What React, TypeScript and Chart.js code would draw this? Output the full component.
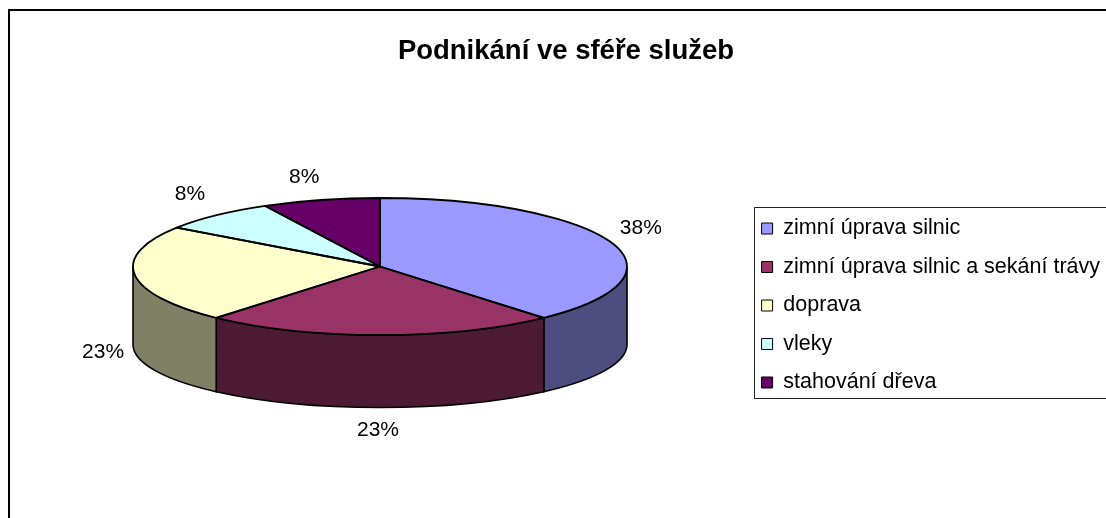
import React, { useEffect, useRef } from "react";
import { Chart, registerables } from "chart.js";

Chart.register(...registerables);

const chartTitle = "Podnikání ve sféře služeb";
const categories = [
  "zimní úprava silnic",
  "zimní úprava silnic a sekání trávy",
  "doprava",
  "vleky",
  "stahování dřeva",
];
const values = [5, 3, 3, 1, 1];
const topColors = ["#9999FF", "#993366", "#FFFFCC", "#CCFFFF", "#660066"];
const sideColors = ["#4D4D80", "#4D1A33", "#808066", "#668080", "#330033"];

const FONT = "'Liberation Sans', Arial, sans-serif";
const CX = 380;
const CY = 266.5;
const RX = 247;
const RY = 68.5;
const DEPTH = 78;
const RY_BOTTOM = 63;
const labelOffsets = [
  [0, -4],
  [-2, -11],
  [0, -4],
  [-5, 0],
  [-9, 4],
];

const pie3d = {
  id: "pie3d",
  beforeDraw(chart: any) {
    const { ctx } = chart;
    ctx.save();
    ctx.strokeStyle = "#000";
    ctx.lineWidth = 2;
    ctx.beginPath();
    ctx.moveTo(9, 518);
    ctx.lineTo(9, 10);
    ctx.lineTo(1106, 10);
    ctx.stroke();
    ctx.lineWidth = 1;
    ctx.strokeStyle = "#222";
    ctx.strokeRect(754.5, 207.5, 400, 191);
    ctx.restore();
  },
  beforeDatasetsDraw(chart: any) {
    const { ctx } = chart;
    const arcs = chart.getDatasetMeta(0).data;
    // walls of the cylinder, derived from each slice's angles
    ctx.save();
    ctx.strokeStyle = "#000";
    ctx.lineWidth = 1.6;
    arcs.forEach((arc: any, i: number) => {
      const a = Math.max(arc.startAngle, 0);
      const b = Math.min(arc.endAngle, Math.PI);
      if (b <= a) return;
      ctx.beginPath();
      ctx.ellipse(CX, CY, RX, RY, 0, a, b);
      ctx.ellipse(CX, CY + DEPTH, RX, RY_BOTTOM, 0, b, a, true);
      ctx.closePath();
      ctx.fillStyle = sideColors[i];
      ctx.fill();
      ctx.stroke();
    });
    ctx.restore();
    // the library's arcs are drawn squashed into the top ellipse
    const first = arcs[0];
    ctx.save();
    ctx.translate(CX, CY);
    ctx.scale(RX / first.outerRadius, RY / first.outerRadius);
    ctx.translate(-first.x, -first.y);
  },
  afterDatasetsDraw(chart: any) {
    const { ctx } = chart;
    ctx.restore();
    const arcs = chart.getDatasetMeta(0).data;
    const total = values.reduce((s, v) => s + v, 0);
    ctx.save();
    ctx.strokeStyle = "#000";
    ctx.lineWidth = 1.8;
    ctx.lineJoin = "round";
    arcs.forEach((arc: any) => {
      ctx.beginPath();
      ctx.moveTo(CX, CY);
      ctx.ellipse(CX, CY, RX, RY, 0, arc.startAngle, arc.endAngle);
      ctx.closePath();
      ctx.stroke();
    });
    ctx.fillStyle = "#000";
    ctx.font = `21px ${FONT}`;
    ctx.textAlign = "center";
    ctx.textBaseline = "middle";
    arcs.forEach((arc: any, i: number) => {
      const mid = (arc.startAngle + arc.endAngle) / 2;
      const s = Math.sin(mid);
      const x = CX + (RX + 32) * Math.cos(mid) + labelOffsets[i][0];
      const y = CY + (RY + 28) * s + (s > 0 ? DEPTH : 0) + labelOffsets[i][1];
      ctx.fillText(`${Math.round((values[i] / total) * 100)}%`, x, y);
    });
    ctx.restore();
  },
};

export default function App() {
  const ref = useRef<HTMLCanvasElement>(null);
  useEffect(() => {
    const chart = new Chart(ref.current!, {
      type: "pie",
      data: {
        labels: categories,
        datasets: [
          {
            data: values,
            backgroundColor: topColors,
            borderWidth: 0,
            radius: RX,
            clip: false,
          } as any,
        ],
      },
      options: {
        responsive: false,
        animation: false,
        layout: { padding: { left: 22, right: -4, top: 0, bottom: -93 } },
        plugins: {
          tooltip: { enabled: false },
          title: {
            display: true,
            text: chartTitle,
            color: "#000",
            font: { family: FONT, size: 27.5, weight: "bold" },
            padding: { top: 35, bottom: 35 },
          },
          legend: {
            position: "right",
            labels: {
              color: "#000",
              font: { family: FONT, size: 21.5 },
              boxWidth: 11,
              boxHeight: 11,
              padding: 17,
              generateLabels(c: any) {
                return Chart.overrides.pie.plugins.legend.labels
                  .generateLabels(c)
                  .map((l: any) => ({ ...l, strokeStyle: "#000", lineWidth: 1 }));
              },
            },
          },
        },
      } as any,
      plugins: [pie3d],
    });
    return () => chart.destroy();
  }, []);
  return (
    <canvas
      ref={ref}
      width={1106}
      height={518}
      style={{ position: "fixed", left: 0, top: 0, display: "block" }}
    />
  );
}
